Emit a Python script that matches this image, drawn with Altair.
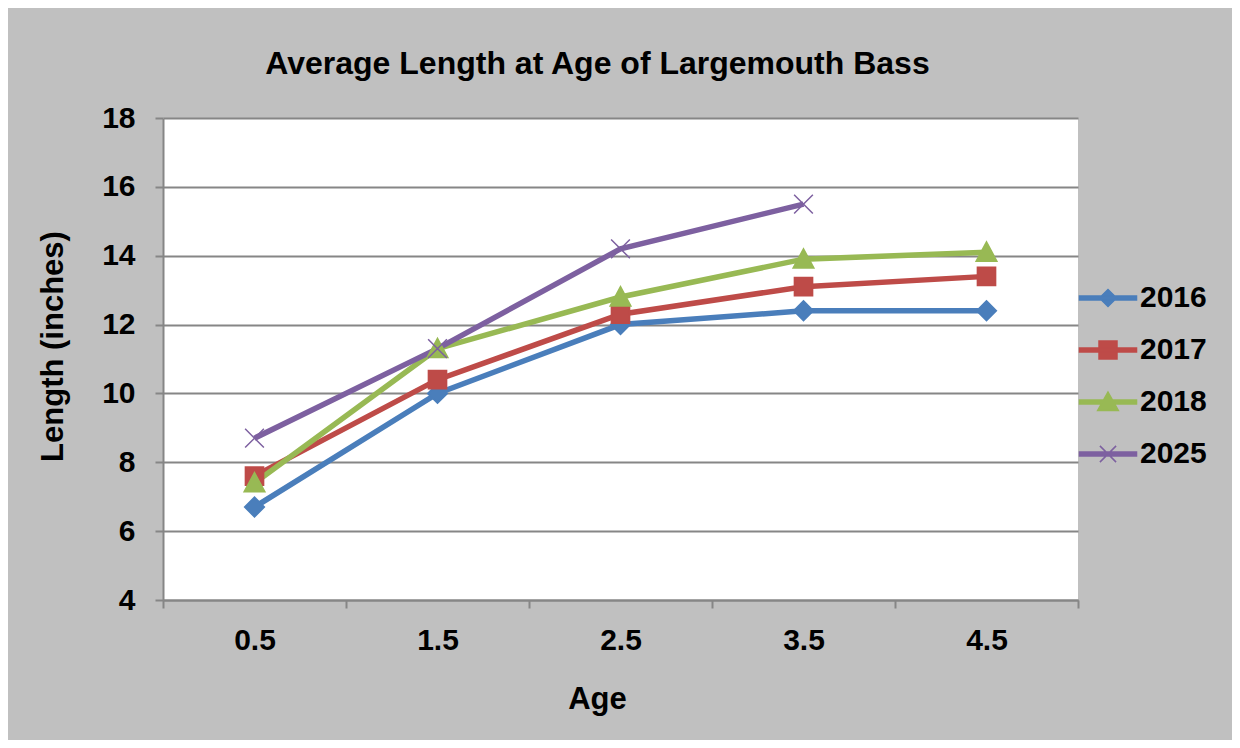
import altair as alt
import pandas as pd

FONT = "Liberation Sans"

ages = ["0.5", "1.5", "2.5", "3.5", "4.5"]
years = ["2016", "2017", "2018", "2025"]
len_2016 = [6.7, 10.0, 12.0, 12.4, 12.4]
len_2017 = [7.6, 10.4, 12.3, 13.1, 13.4]
len_2018 = [7.4, 11.3, 12.8, 13.9, 14.1]
len_2025 = [8.7, 11.3, 14.2, 15.5, None]
series_colors = ["#4A7EBB", "#BE4B48", "#98B954", "#7D60A0"]
y_ticks = [4, 6, 8, 10, 12, 14, 16, 18]

# marker shapes (custom SVG paths in unit square)
plot_shapes = [
    "M-1,0L0,-1L1,0L0,1Z",
    "M-0.92,-0.92H0.92V0.92H-0.92Z",
    "M0,-1.05L1.05,0.9H-1.05Z",
    "M-0.95,-0.95L0.95,0.95M-0.95,0.95L0.95,-0.95",
]
legend_line = "M-3.17,-0.22H3.17V0.22H-3.17Z"
legend_shapes = [
    legend_line + "M-0.95,0L0,-0.95L0.95,0L0,0.95Z",
    legend_line + "M-1,-1H1V1H-1Z",
    legend_line + "M0,-1.1L1.15,0.95H-1.15Z",
    legend_line + "M-0.9,-0.9L0.9,0.9M-0.9,0.9L0.9,-0.9",
]

rows = []
for yr, vals in zip(years, [len_2016, len_2017, len_2018, len_2025]):
    for a, v in zip(ages, vals):
        if v is not None:
            rows.append({"age": a, "year": yr, "length": v})
df = pd.DataFrame(rows)

x_enc = alt.X(
    "age:N",
    sort=ages,
    scale=alt.Scale(type="band", domain=ages, paddingInner=0, paddingOuter=0),
    axis=alt.Axis(
        title="Age",
        labelAngle=0,
        tickBand="extent",
        grid=False,
        domainColor="#868686",
        domainWidth=2,
        tickColor="#868686",
        tickWidth=2,
        tickSize=8,
        labelFontSize=30,
        labelPadding=17,
        titleFontSize=31,
        titleX=434,
        titleY=108,
        titleAlign="center",
        titleBaseline="alphabetic",
    ),
)
y_enc = alt.Y(
    "length:Q",
    scale=alt.Scale(domain=[4, 18], nice=False, zero=False),
    axis=alt.Axis(
        title="Length (inches)",
        values=y_ticks,
        grid=True,
        gridColor="#868686",
        gridWidth=2,
        domainColor="#868686",
        domainWidth=2,
        tickColor="#868686",
        tickWidth=2,
        tickSize=8,
        labelFontSize=30,
        labelPadding=20,
        titleFontSize=31,
        titleAngle=270,
        titleX=-101,
        titleY=228,
        titleAlign="center",
        titleBaseline="alphabetic",
    ),
)

color_scale = alt.Scale(domain=years, range=series_colors)

lines = alt.Chart(df).mark_line(strokeWidth=5.5).encode(
    x=x_enc,
    y=y_enc,
    color=alt.Color("year:N", scale=color_scale, legend=None),
    detail="year:N",
)

points = alt.Chart(df).mark_point(filled=True, size=390, strokeWidth=1.5, opacity=1).encode(
    x=x_enc,
    y=y_enc,
    fill=alt.Fill("year:N", scale=color_scale, legend=None),
    stroke=alt.Stroke("year:N", scale=color_scale, legend=None),
    shape=alt.Shape("year:N", scale=alt.Scale(domain=years, range=plot_shapes), legend=None),
)

leg = alt.Legend(
    title=None,
    orient="none",
    legendX=930,
    legendY=165,
    padding=0,
    symbolSize=324,
    symbolStrokeWidth=1.5,
    symbolOpacity=1,
    labelFontSize=30,
    labelFont=FONT,
    labelFontWeight="bold",
    labelColor="black",
    labelOffset=17,
    rowPadding=22,
)

legend_layer = (
    alt.Chart(df)
    .transform_filter("false")
    .transform_calculate(year_l="datum.year")
    .mark_point(filled=True, strokeWidth=1.5)
    .encode(
        x=x_enc,
        y=y_enc,
        fill=alt.Fill("year_l:N", scale=color_scale, legend=leg),
        stroke=alt.Stroke("year_l:N", scale=color_scale, legend=leg),
        shape=alt.Shape("year_l:N", scale=alt.Scale(domain=years, range=legend_shapes), legend=leg),
    )
)

chart = (
    alt.layer(lines, points, legend_layer)
    .resolve_scale(color="independent", fill="independent", stroke="independent", shape="independent")
    .resolve_legend(fill="independent", stroke="independent", shape="independent")
    .properties(
        width=915,
        height=482,
        title=alt.TitleParams(
            "Average Length at Age of Largemouth Bass",
            fontSize=32,
            font=FONT,
            fontWeight="bold",
            color="black",
            anchor="middle",
            dx=-23,
            dy=31,
            baseline="alphabetic",
            offset=28,
        ),
        autosize=alt.AutoSizeParams(type="none"),
        padding={"left": 155, "top": 110, "right": 154, "bottom": 140},
        background="#C0C0C0",
    )
    .configure_view(fill="white", stroke=None)
    .configure_axis(
        labelFont=FONT,
        labelFontWeight="bold",
        labelColor="black",
        titleFont=FONT,
        titleFontWeight="bold",
        titleColor="black",
    )
)

chart.save("out.html", embed_options={"renderer": "svg", "actions": False})
